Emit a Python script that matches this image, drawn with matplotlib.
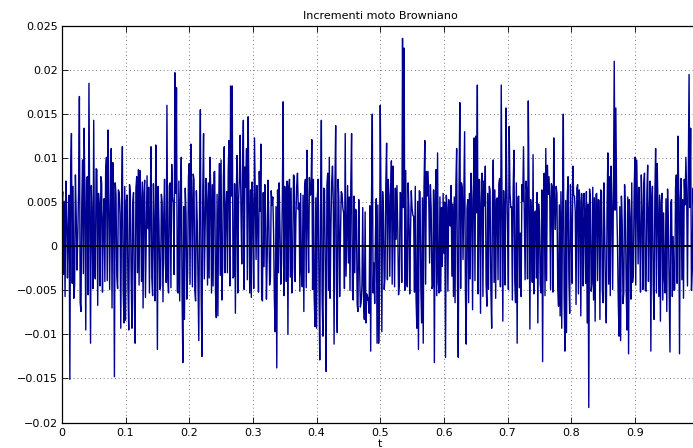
import numpy as np
import matplotlib
matplotlib.use("Agg")
import matplotlib.pyplot as plt

# incrementi dW (in unita' di 1e-3), 80 campioni per ogni intervallo di 0.1 in t
seg0 = [4.7, 6.2, -3.2, 5.1, -5.7, 7.4, 4.4, -3.6, 2.0, 5.8, -15.1, 8.3, 12.8, -4.2, 6.8, -5.9,
        -4.4, 8.1, 3.5, -2.7, 1.2, 6.6, 17.0, -6.4, -7.4, 5.0, 9.8, -3.1, 13.4, 4.3, -9.5, 7.7,
        7.9, -5.5, 18.5, 3.8, -11.0, 6.9, 3.0, -4.8, 14.3, -2.6, -3.7, 8.8, 8.7, -6.7, 6.0, 4.6,
        -4.5, 7.9, 7.2, -5.2, 3.0, 5.4, -4.0, 8.6, 10.1, -3.9, 13.2, 5.7, -4.9, 4.1, 11.1, -7.0,
        9.5, 6.3, -14.8, 7.2, 5.9, -3.4, -4.8, 6.4, 6.1, 3.6, -9.3, 5.3, 11.3, -5.0, -8.7, 6.8]
seg1 = [-8.4, 5.2, 5.8, -4.6, -9.5, 7.0, 6.0, -3.3, -9.3, 4.8, 6.1, -5.7, -11.0, 6.5, 7.9, -3.0,
        8.7, -4.4, 8.6, 5.5, -4.0, 7.3, -7.0, 6.1, 7.5, -5.8, 1.5, 8.0, 2.0, 6.7, -5.3, 4.2,
        11.3, -3.6, -5.6, 7.1, 2.0, -6.2, 11.5, 5.0, -11.7, 6.8, 2.4, -4.9, -4.5, 5.9, 5.0, -6.3,
        3.5, 7.6, -2.0, -4.1, 16.0, -3.5, -5.3, 6.9, 7.2, -4.7, 9.3, 5.6, 4.8, -3.2, 19.7, 6.0,
        18.0, -5.1, -5.3, 7.4, -6.2, 5.3, 10.1, -5.5, -13.2, 4.5, -8.3, 6.6, 3.7, -6.0, -3.0, 7.8]
seg2 = [9.4, -4.3, 11.6, 5.4, -4.6, 8.2, 7.6, -5.0, -6.2, 6.3, 3.0, -3.8, -10.7, 5.0, 15.5, -5.6,
        -12.5, 6.1, 12.8, -3.7, 2.0, 7.7, 5.3, -4.4, 7.2, -3.6, 10.1, 6.5, -5.3, 7.0, -4.5, 8.4,
        8.5, -5.2, -8.1, 5.9, -7.9, 4.6, 9.4, -3.3, 9.8, -6.1, -2.3, 7.9, 11.3, -3.0, 4.4, 6.2,
        -3.0, 8.5, 12.0, -4.5, 18.2, 5.7, 18.2, -3.6, -3.4, 7.1, -7.6, 5.2, 10.3, -5.3, 5.3, 7.6,
        12.6, 4.1, -2.0, 8.3, 14.3, -4.9, 9.0, 6.7, 11.1, -3.8, 14.7, 5.8, -5.3, 6.4, -5.8, 7.3]
seg3 = [4.3, -4.8, 12.3, 5.1, -1.5, 6.9, 2.5, -5.2, 8.5, 4.0, 11.6, -5.9, -6.2, 6.1, -2.3, 7.0,
        3.4, -6.0, -1.0, 7.5, 3.0, -4.4, -3.5, 6.3, 4.7, 5.6, 1.5, -6.1, -9.7, 4.5, -13.8, 6.4,
        -3.0, 7.2, 2.0, -4.3, -1.9, 5.5, 16.4, -5.6, 6.8, 3.9, -4.0, 7.4, -10.0, 6.6, 7.6, -3.5,
        6.6, -5.3, -2.5, 8.1, 7.9, -4.0, 3.0, 6.8, 8.3, 4.2, 4.9, -5.1, 6.0, -3.1, -4.6, 5.8,
        -7.4, 6.9, 7.6, -4.7, 10.9, 3.3, -3.0, 7.8, 5.8, 5.9, 12.1, -4.9, 7.6, -5.8, -9.1, 5.5]
seg4 = [-9.3, 5.7, 7.6, -4.5, -12.9, 4.4, 14.3, -6.2, -10.2, 6.6, 6.4, -3.1, -14.2, 7.0, 8.3, -5.0,
        10.1, -5.9, 2.0, 7.3, 9.1, 5.0, -11.1, 6.4, 13.7, -4.6, -9.8, 7.6, 5.3, -5.7, 1.0, 6.2,
        6.0, 4.3, 3.8, -4.8, 12.8, -3.4, 1.5, 6.9, -1.9, 5.6, -5.0, 7.0, 12.8, -4.9, -6.1, 5.7,
        -3.0, 4.2, 4.0, -6.6, -7.4, 5.3, -2.0, -6.9, -6.4, -4.4, 4.4, -5.9, -8.3, 3.9, -8.7, -5.4,
        -6.1, -5.8, -7.6, 4.6, -11.9, 5.1, 15.0, -5.3, -1.9, -6.5, 1.5, 5.4, -11.0, 4.7, -11.0, -5.8]
seg5 = [16.0, 4.6, -9.7, 6.2, 3.8, -4.9, -3.4, 7.1, 11.7, -3.8, 7.6, 5.7, -3.4, 5.8, 9.7, -4.3,
        9.1, 3.8, -4.6, 6.6, 0.8, 6.9, 1.9, -5.5, -4.2, 6.1, 6.0, -4.1, 23.6, 4.4, 22.5, -5.0,
        8.6, -3.5, -4.6, 7.2, 4.3, -5.4, 1.5, 6.3, 4.3, 3.5, 3.4, -5.2, 6.8, -6.0, -9.3, 5.1,
        -11.7, 6.3, 6.2, -4.7, -8.7, 5.5, -11.0, 6.8, 12.0, -4.3, 8.5, 5.7, 8.5, 5.2, -1.9, 7.0,
        4.2, -4.8, -4.5, 6.4, -13.2, 4.6, 8.7, -5.6, 10.6, -4.1, -5.3, 5.6, -5.1, 4.4, -2.3, 6.0]
seg6 = [-0.8, 5.0, -12.6, 5.8, 4.4, -5.1, 5.3, 4.4, 2.3, 6.9, -3.4, 4.8, -5.7, 5.6, -6.4, 7.0,
        11.1, -4.0, -12.6, 6.5, 16.3, -4.8, 7.2, 6.7, -1.5, 5.4, 13.0, -5.0, -11.1, 4.3, 5.3, -6.4,
        6.0, -3.7, 8.3, 5.3, -7.2, 6.2, 12.3, -3.9, 12.5, 3.8, 18.3, -5.4, 7.6, 4.9, -7.6, 7.3,
        8.3, -5.7, 7.4, 4.6, 9.1, -4.3, -6.8, 6.0, -4.9, 6.8, 6.4, -5.0, -9.3, 5.0, 9.8, -4.1,
        6.4, -5.9, 5.3, 5.5, -3.8, 7.1, 7.7, -4.6, 18.3, 4.1, -8.5, 6.3, 3.0, -4.4, 15.7, 6.9]
seg7 = [2.0, -4.9, 13.6, 6.1, 4.4, 4.5, -6.1, 6.6, 10.9, -3.9, -6.4, 7.2, -11.0, 5.6, 5.7, -4.7,
        1.5, -5.7, 7.0, 5.1, 11.3, 4.2, -3.8, 7.4, 6.4, -3.7, 16.5, 5.8, -9.4, 5.3, 3.0, -4.1,
        10.4, -5.4, 3.8, 4.0, -3.6, 6.1, -8.7, 4.8, 3.0, -4.3, -5.3, 6.4, -13.1, 5.0, 8.3, -5.6,
        11.1, -3.9, 9.2, 5.9, 7.9, 5.5, -4.9, 7.1, 6.8, -5.2, 12.3, 4.5, 1.9, 6.8, 6.0, -4.6,
        -6.8, 4.7, -7.9, 6.2, -9.3, 3.9, 15.0, -5.4, -11.9, 5.2, -9.8, 5.7, 7.9, -3.6, -7.6, 7.0]
seg8 = [2.0, -4.2, 9.1, 5.8, 5.7, 4.0, -6.6, 6.6, 7.0, -5.4, 6.4, 5.1, -7.9, 6.0, 3.0, -4.5,
        6.0, 3.7, -4.2, 6.2, -8.7, 4.8, -18.3, 6.5, 5.3, -5.1, -4.2, 6.7, -6.1, 5.5, -8.5, 5.9,
        6.0, -3.9, 5.3, 5.2, -8.3, 6.4, 6.2, -5.0, -6.4, 7.2, 2.0, -5.7, -8.7, 4.7, 10.6, -4.3,
        7.9, -5.6, 9.1, 4.9, -4.9, 6.3, 21.0, 4.1, 15.7, 5.0, 0.8, -5.9, -10.2, 4.5, -10.7, 5.7,
        2.8, -6.5, -5.3, 7.0, 4.0, -4.8, -9.5, 5.6, -12.2, 5.3, 3.0, -6.0, 7.2, -4.1, -3.2, 6.2]
seg9 = [10.1, -4.4, 9.8, 5.5, -2.0, 6.7, 1.5, -5.2, 8.1, 3.8, -4.9, 6.9, 8.3, -4.9, -5.1, 6.0,
        9.2, -4.0, 3.8, 7.4, -11.9, 5.2, 6.8, -4.5, -8.3, 5.6, 11.1, -5.3, 9.4, 4.1, -5.7, 5.8,
        -8.5, 5.0, 6.0, -6.1, 3.8, -3.7, -5.3, 5.4, -7.4, 6.5, 2.5, -4.6, -12.0, 4.9, 5.3, -5.7,
        1.1, -5.0, -4.9, 6.6, 8.1, -4.2, 12.5, 6.3, -12.2, 5.4, 7.7, -3.8, 5.3, -5.9, 7.6, 4.7,
        10.1, 6.0, -4.5, 7.5, 19.5, 4.4, 13.4, -5.0, -2.7, 6.6, 4.0, -6.2, -3.0, 4.2, 6.0, -4.6]

dW = 1e-3 * np.array(seg0 + seg1 + seg2 + seg3 + seg4 + seg5 + seg6 + seg7 + seg8 + seg9)
dt = 0.00125
t = dt * np.arange(len(dW))

xticks = [0, 0.1, 0.2, 0.3, 0.4, 0.5, 0.6, 0.7, 0.8, 0.9]
xticklabels = ['0', '0.1', '0.2', '0.3', '0.4', '0.5', '0.6', '0.7', '0.8', '0.9']
yticks = [-0.02, -0.015, -0.01, -0.005, 0, 0.005, 0.01, 0.015, 0.02, 0.025]
yticklabels = ['\u22120.02', '\u22120.015', '\u22120.01', '\u22120.005', '0',
               '0.005', '0.01', '0.015', '0.02', '0.025']

plt.rcParams['font.family'] = 'DejaVu Sans'
plt.rcParams['font.size'] = 8

fig = plt.figure(figsize=(6.93, 4.48), dpi=100)
# l'asse continua oltre il bordo destro dell'immagine
ax = fig.add_axes([0.0893, 0.0569, 0.9188, 0.885])

ax.plot(t, dW, color='#000090', linewidth=1.0)
ax.plot([0, 1], [0, 0], color='black', linewidth=1.3)

ax.set_xlim(0, 1)
ax.set_ylim(-0.02, 0.025)
ax.set_xticks(xticks)
ax.set_xticklabels(xticklabels)
ax.set_yticks(yticks)
ax.set_yticklabels(yticklabels)
ax.tick_params(direction='in', length=4, width=0.6, top=True, right=True,
               labelsize=8, colors='black')
ax.tick_params(axis='x', pad=4)
ax.tick_params(axis='y', pad=3)
ax.grid(True, color='#555555', linestyle=(0, (1, 3.5)), linewidth=0.6)
for s in ax.spines.values():
    s.set_linewidth(0.9)

ax.set_title('Incrementi moto Browniano', fontsize=8, pad=5)
ax.set_xlabel('t', fontsize=8, labelpad=1)

fig.savefig('out.png', dpi=100)
